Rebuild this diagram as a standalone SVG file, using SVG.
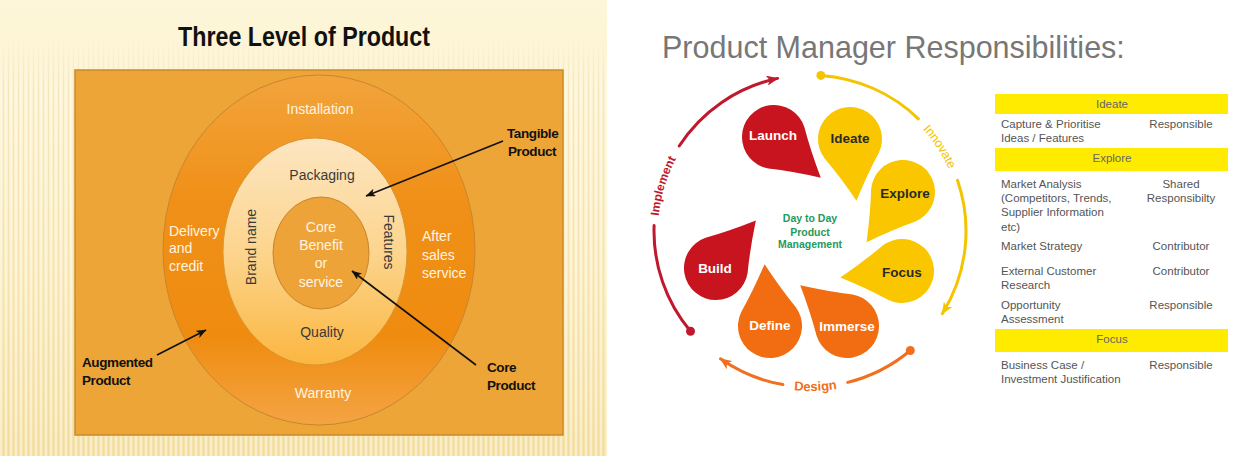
<svg xmlns="http://www.w3.org/2000/svg" width="1246" height="456" viewBox="0 0 1246 456">
<style>
.ttl{font-family:"Liberation Sans",Arial,sans-serif;font-weight:bold;fill:#111}
.lbl{font-family:"Liberation Sans",Arial,sans-serif;font-size:14px;text-anchor:middle}
.wt{fill:#fff4e0}
.dk{fill:#3a3a3a}
.call{font-family:"Liberation Sans",Arial,sans-serif;font-size:13.5px;font-weight:bold;fill:#111;letter-spacing:-0.4px}
.ptl{font-family:"Liberation Sans",Arial,sans-serif;font-size:13.5px;font-weight:bold;text-anchor:middle}
.pw{fill:#ffffff}
.pd{fill:#2a2a2a}
.tb{font-family:"Liberation Sans",Arial,sans-serif;font-size:11.5px;fill:#555}
.tc{text-anchor:middle}
.bar{fill:#ffeb00}
.bt{font-family:"Liberation Sans",Arial,sans-serif;font-size:11.5px;fill:#666;text-anchor:middle}
.arc{fill:none;stroke-width:3;stroke-linecap:round}
.ptr{fill:none;stroke:#111;stroke-width:1.6}
</style>
<defs>
<linearGradient id="bgL" x1="0" y1="0" x2="0" y2="1">
<stop offset="0" stop-color="#fdf6d9"/>
<stop offset="0.6" stop-color="#fbedc0"/>
<stop offset="1" stop-color="#f6e2a8"/>
</linearGradient>
<pattern id="stripes" width="5" height="10" patternUnits="userSpaceOnUse">
<rect x="0" y="0" width="2" height="10" fill="#ffffff" opacity="0.4"/>
<rect x="3" y="0" width="1" height="10" fill="#e6cf92" opacity="0.35"/>
</pattern>
<linearGradient id="fadeG" x1="0" y1="0" x2="0" y2="1">
<stop offset="0" stop-color="#fff" stop-opacity="0"/>
<stop offset="0.12" stop-color="#fff" stop-opacity="1"/>
<stop offset="1" stop-color="#fff" stop-opacity="1"/>
</linearGradient>
<mask id="fadeM" maskUnits="userSpaceOnUse" x="0" y="40" width="607" height="416">
<rect x="0" y="40" width="607" height="416" fill="url(#fadeG)"/>
</mask>
<linearGradient id="outerG" x1="0" y1="0" x2="0" y2="1">
<stop offset="0" stop-color="#f2a43c"/>
<stop offset="0.35" stop-color="#f09018"/>
<stop offset="0.75" stop-color="#ef8c10"/>
<stop offset="1" stop-color="#f4a444"/>
</linearGradient>
<linearGradient id="midG" x1="0" y1="0" x2="0" y2="1">
<stop offset="0" stop-color="#fde6c2"/>
<stop offset="0.5" stop-color="#fcd58e"/>
<stop offset="1" stop-color="#fbb640"/>
</linearGradient>
<marker id="ahK" viewBox="0 0 10 8" markerWidth="10" markerHeight="8" refX="9.5" refY="4" orient="auto" markerUnits="userSpaceOnUse">
<path d="M0,0 L10,4 L0,8 L2.5,4 z" fill="#111"/>
</marker>
<marker id="ahR" viewBox="0 0 12 10" markerWidth="12" markerHeight="10" refX="11" refY="5" orient="auto" markerUnits="userSpaceOnUse">
<path d="M0,0 L12,5 L0,10 L3,5 z" fill="#c0182c"/>
</marker>
<marker id="ahY" viewBox="0 0 12 10" markerWidth="12" markerHeight="10" refX="11" refY="5" orient="auto" markerUnits="userSpaceOnUse">
<path d="M0,0 L12,5 L0,10 L3,5 z" fill="#f5c400"/>
</marker>
<marker id="ahO" viewBox="0 0 12 10" markerWidth="12" markerHeight="10" refX="11" refY="5" orient="auto" markerUnits="userSpaceOnUse">
<path d="M0,0 L12,5 L0,10 L3,5 z" fill="#f07020"/>
</marker>
<path id="drop" d="M62,0 Q36,14 16.5,27.4 A32,32 0 1 1 16.5,-27.4 Q36,-14 62,0 Z"/>
<path id="tpImp" d="M661.9,265.2 A152,152 0 0 1 706.3,119.8"/>
<path id="tpInn" d="M879.0,95.6 A152,152 0 0 1 961.8,223.0"/>
<path id="tpDes" d="M734.9,372.3 A160,160 0 0 0 894.8,366.7"/>
</defs>

<!-- backgrounds -->
<rect x="0" y="0" width="1246" height="456" fill="#ffffff"/>
<rect x="0" y="0" width="607" height="456" fill="url(#bgL)"/>
<rect x="0" y="40" width="607" height="416" fill="url(#stripes)" mask="url(#fadeM)"/>

<!-- LEFT: Three Level of Product -->
<text class="ttl" x="304" y="46" font-size="27" text-anchor="middle" textLength="252" lengthAdjust="spacingAndGlyphs">Three Level of Product</text>
<rect x="75" y="70" width="488" height="365" fill="#eea537" stroke="#c98a2c" stroke-width="1.5"/>

<g id="augmented">
<ellipse cx="319" cy="250" rx="156" ry="175" fill="url(#outerG)" stroke="#c8862c" stroke-width="1"/>
<text class="lbl wt" x="320" y="114">Installation</text>
<text class="lbl wt" x="323" y="398">Warranty</text>
<text class="lbl wt" x="169" y="236" style="text-anchor:start">Delivery</text>
<text class="lbl wt" x="169" y="253" style="text-anchor:start">and</text>
<text class="lbl wt" x="169" y="271" style="text-anchor:start">credit</text>
<text class="lbl wt" x="422" y="241" style="text-anchor:start">After</text>
<text class="lbl wt" x="422" y="260" style="text-anchor:start">sales</text>
<text class="lbl wt" x="422" y="278" style="text-anchor:start">service</text>
</g>

<g id="tangible">
<ellipse cx="315" cy="251.5" rx="92" ry="113.5" fill="url(#midG)" stroke="#d9952e" stroke-width="1"/>
<text class="lbl dk" x="322" y="180">Packaging</text>
<text class="lbl dk" x="322" y="337">Quality</text>
<text class="lbl dk" transform="translate(256,247) rotate(-90)">Brand name</text>
<text class="lbl dk" transform="translate(384,242) rotate(90)">Features</text>
</g>

<g id="core">
<ellipse cx="321" cy="253" rx="48" ry="56" fill="#eea338" stroke="#c8842c" stroke-width="1"/>
<text class="lbl wt" x="321" y="232">Core</text>
<text class="lbl wt" x="321" y="250">Benefit</text>
<text class="lbl wt" x="321" y="268">or</text>
<text class="lbl wt" x="321" y="287">service</text>
</g>

<g id="callouts">
<line class="ptr" x1="503" y1="141" x2="366" y2="196" marker-end="url(#ahK)"/>
<line class="ptr" x1="476" y1="365" x2="352" y2="271" marker-end="url(#ahK)"/>
<line class="ptr" x1="157" y1="355" x2="206" y2="330" marker-end="url(#ahK)"/>
</g>
<g id="label-tangible">
<text class="call" x="507" y="138">Tangible</text>
<text class="call" x="508" y="156">Product</text>
</g>
<g id="label-core">
<text class="call" x="487" y="372">Core</text>
<text class="call" x="487" y="390">Product</text>
</g>
<g id="label-augmented">
<text class="call" x="82" y="367">Augmented</text>
<text class="call" x="82" y="385">Product</text>
</g>

<!-- RIGHT: Product Manager Responsibilities -->
<text x="662" y="58" font-family="Liberation Sans, Arial, sans-serif" font-size="30.5" fill="#777777">Product Manager Responsibilities:</text>

<g id="cycle-arcs">
<path class="arc" stroke="#c0182c" d="M690.5,331.3 A156,156 0 0 1 654.1,225.6"/>
<path class="arc" stroke="#c0182c" d="M679.2,146.0 A156,156 0 0 1 777.6,78.4" marker-end="url(#ahR)"/>
<circle cx="690.5" cy="331.3" r="4.5" fill="#c0182c"/>
<path class="arc" stroke="#f5c400" d="M820.9,75.4 A156,156 0 0 1 918.4,118.8"/>
<path class="arc" stroke="#f5c400" d="M957.5,180.2 A156,156 0 0 1 942.3,313.7" marker-end="url(#ahY)"/>
<circle cx="820.9" cy="75.4" r="4.5" fill="#f5c400"/>
<path class="arc" stroke="#f07020" d="M910.3,350.5 A156,156 0 0 1 847.7,382.4"/>
<path class="arc" stroke="#f07020" d="M782.9,384.6 A156,156 0 0 1 720.5,358.8" marker-end="url(#ahO)"/>
<circle cx="910.3" cy="350.5" r="4.5" fill="#f07020"/>
<text font-family="Liberation Sans, Arial, sans-serif" font-size="12" font-weight="bold" fill="#c0182c"><textPath href="#tpImp" startOffset="50%" text-anchor="middle">Implement</textPath></text>
<text font-family="Liberation Sans, Arial, sans-serif" font-size="12.5" fill="#f2c200"><textPath href="#tpInn" startOffset="50%" text-anchor="middle">Innovate</textPath></text>
<text font-family="Liberation Sans, Arial, sans-serif" font-size="13" font-weight="bold" fill="#f07020"><textPath href="#tpDes" startOffset="50%" text-anchor="middle">Design</textPath></text>
</g>

<g id="launch">
<use href="#drop" transform="translate(774,137) rotate(41)" fill="#c8141f"/>
<text class="ptl pw" x="773" y="140">Launch</text>
</g>
<g id="ideate">
<use href="#drop" transform="translate(850,139) rotate(84)" fill="#f9c600"/>
<text class="ptl pd" x="850" y="143">Ideate</text>
</g>
<g id="explore">
<use href="#drop" transform="translate(903,192) rotate(126)" fill="#f9c600"/>
<text class="ptl pd" x="905" y="198">Explore</text>
</g>
<g id="focus">
<use href="#drop" transform="translate(902,271) rotate(174)" fill="#f9c600"/>
<text class="ptl pd" x="902" y="277">Focus</text>
</g>
<g id="immerse">
<use href="#drop" transform="translate(847,326) rotate(221)" fill="#f26c11"/>
<text class="ptl pw" x="847" y="331">Immerse</text>
</g>
<g id="define">
<use href="#drop" transform="translate(770,326) rotate(265)" fill="#f26c11"/>
<text class="ptl pw" x="770" y="330">Define</text>
</g>
<g id="build">
<use href="#drop" transform="translate(716,268) rotate(310)" fill="#c8141f"/>
<text class="ptl pw" x="715" y="273">Build</text>
</g>
<g id="center-label" font-family="Liberation Sans, Arial, sans-serif" font-size="10.5" font-weight="bold" fill="#1f9a5c" text-anchor="middle">
<text x="810" y="222">Day to Day</text>
<text x="810" y="236">Product</text>
<text x="810" y="248">Management</text>
</g>

<g id="table">
<rect class="bar" x="995" y="94" width="233" height="20"/>
<text class="bt" x="1112" y="108">Ideate</text>
<text class="tb" x="1001" y="128">Capture &amp; Prioritise</text>
<text class="tb" x="1001" y="142">Ideas / Features</text>
<text class="tb tc" x="1181" y="128">Responsible</text>

<rect class="bar" x="995" y="148" width="233" height="23"/>
<text class="bt" x="1112" y="162">Explore</text>
<text class="tb" x="1001" y="188">Market Analysis</text>
<text class="tb" x="1001" y="202">(Competitors, Trends,</text>
<text class="tb" x="1001" y="216">Supplier Information</text>
<text class="tb" x="1001" y="231">etc)</text>
<text class="tb tc" x="1181" y="188">Shared</text>
<text class="tb tc" x="1181" y="202">Responsibilty</text>

<text class="tb" x="1001" y="250">Market Strategy</text>
<text class="tb tc" x="1181" y="250">Contributor</text>

<text class="tb" x="1001" y="275">External Customer</text>
<text class="tb" x="1001" y="289">Research</text>
<text class="tb tc" x="1181" y="275">Contributor</text>

<text class="tb" x="1001" y="309">Opportunity</text>
<text class="tb" x="1001" y="323">Assessment</text>
<text class="tb tc" x="1181" y="309">Responsible</text>

<rect class="bar" x="995" y="329" width="233" height="23"/>
<text class="bt" x="1112" y="343">Focus</text>
<text class="tb" x="1001" y="369">Business Case /</text>
<text class="tb" x="1001" y="383">Investment Justification</text>
<text class="tb tc" x="1181" y="369">Responsible</text>
</g>
</svg>
